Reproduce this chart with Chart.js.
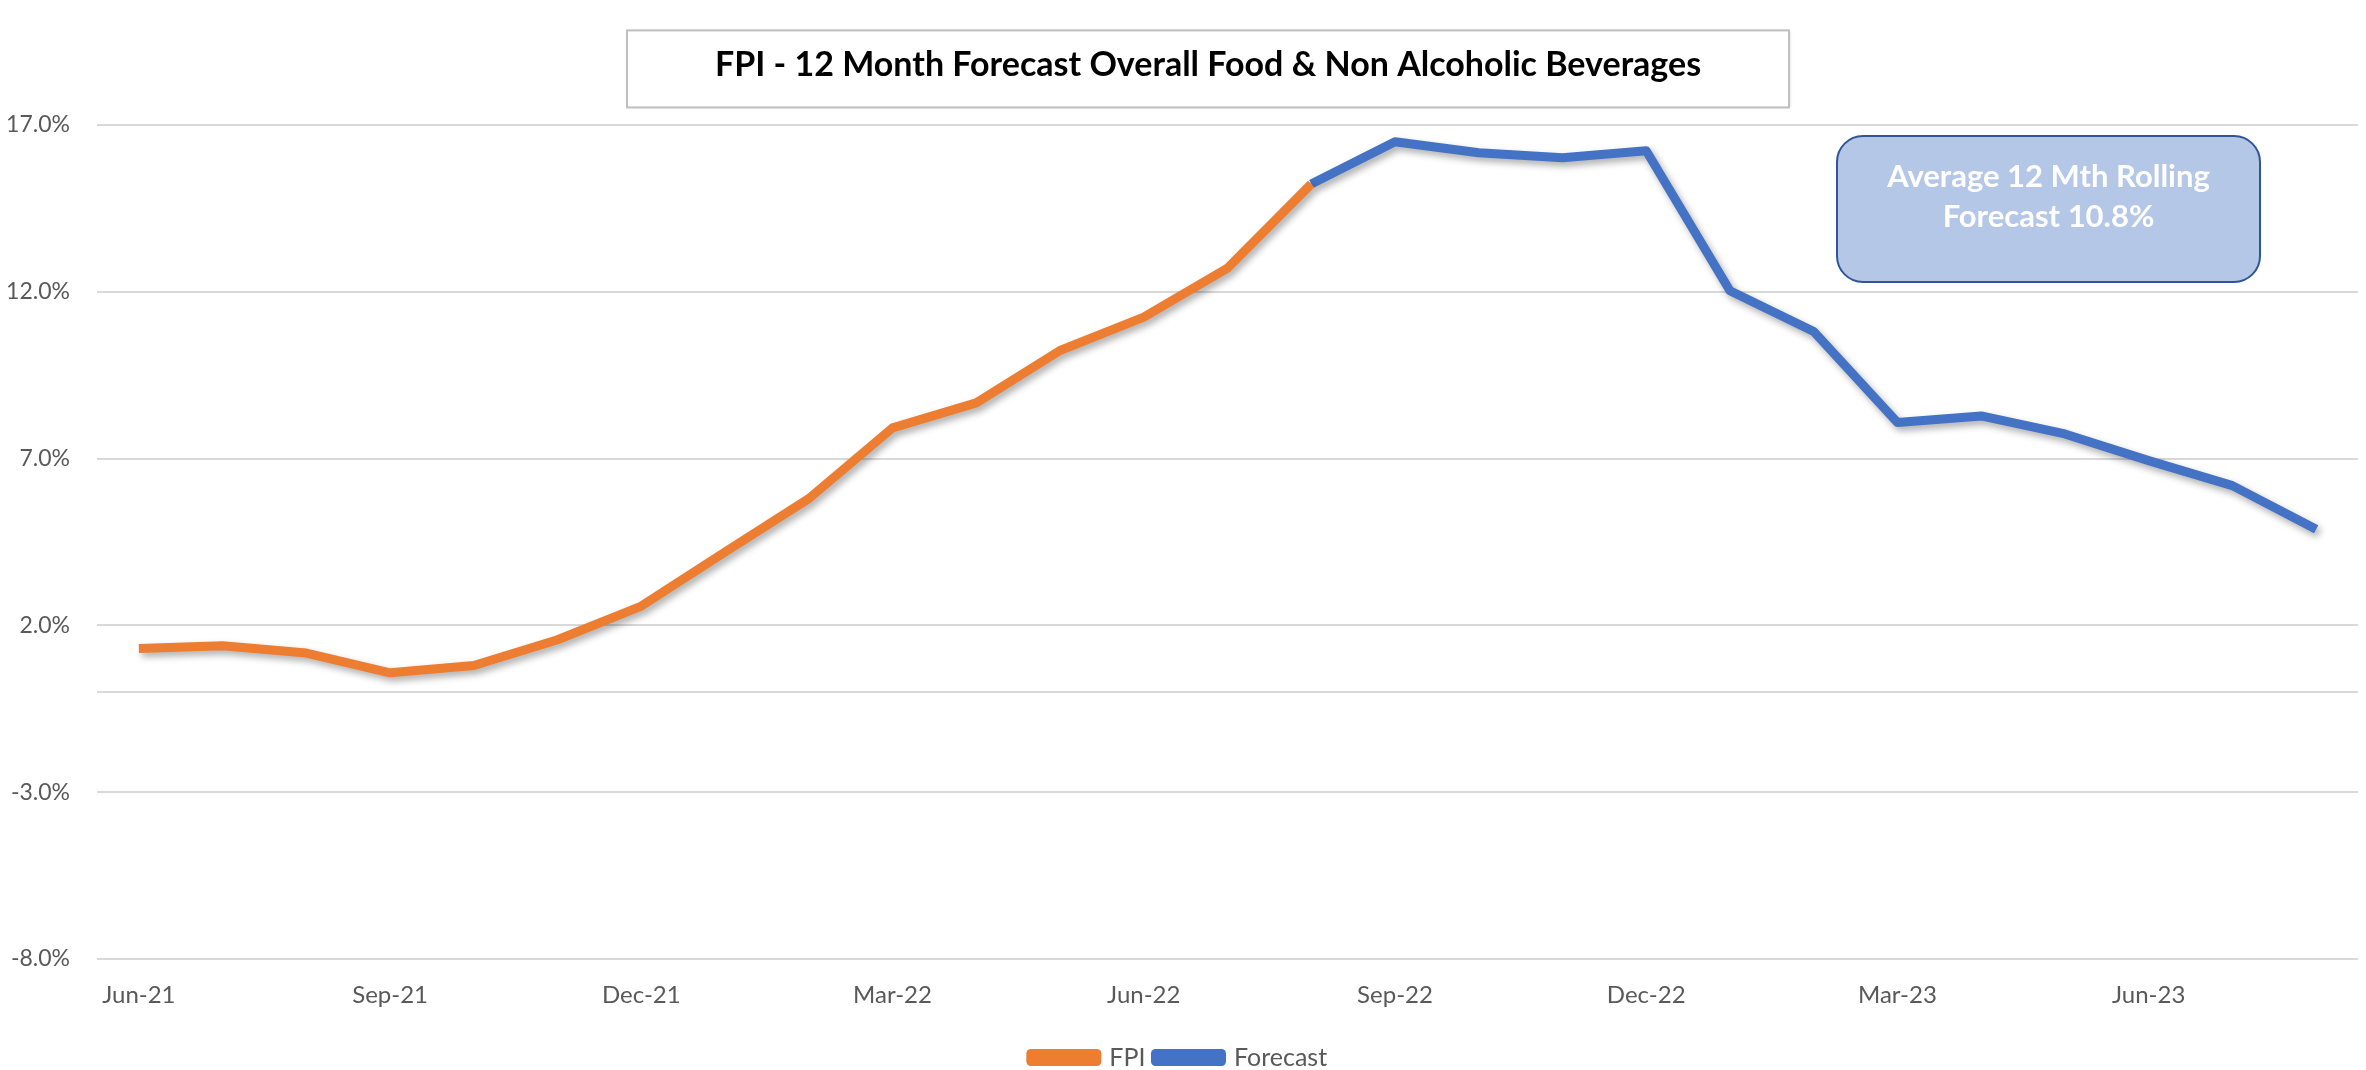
<!DOCTYPE html>
<html>
<head>
<meta charset="utf-8">
<script src="https://cdn.jsdelivr.net/npm/chart.js@4.4.1/dist/chart.umd.min.js"></script>
<style>
  html, body { margin: 0; padding: 0; background: #ffffff; }
  #wrap { width: 2366px; height: 1070px; }
</style>
</head>
<body>
<div id="wrap"><canvas id="c" width="2366" height="1070"></canvas></div>
<script>
const months = ["Jun-21","Jul-21","Aug-21","Sep-21","Oct-21","Nov-21","Dec-21",
  "Jan-22","Feb-22","Mar-22","Apr-22","May-22","Jun-22","Jul-22","Aug-22",
  "Sep-22","Oct-22","Nov-22","Dec-22","Jan-23","Feb-23","Mar-23","Apr-23",
  "May-23","Jun-23","Jul-23","Aug-23"];
const fpiValues = [1.31, 1.39, 1.17, 0.58, 0.80, 1.57, 2.58, 4.20, 5.80, 7.92,
  8.67, 10.24, 11.24, 12.71, 15.23];
const forecastValues = [15.23, 16.50, 16.17, 16.02, 16.23, 12.03, 10.81, 8.08,
  8.28, 7.74, 6.94, 6.19, 4.88];
const yTicks = [-8, -3, 2, 7, 12, 17];
const titleText = "FPI - 12 Month Forecast Overall Food & Non Alcoholic Beverages";
const noteLines = ["Average 12 Mth Rolling", "Forecast 10.8%"];

const fpiData = months.map((m, i) => i < fpiValues.length ? fpiValues[i] : null);
const fcStart = months.length - forecastValues.length;
const forecastData = months.map((m, i) => i >= fcStart ? forecastValues[i - fcStart] : null);

const FONT = "Lato, 'Open Sans', sans-serif";

function roundRect(ctx, x, y, w, h, r) {
  ctx.beginPath();
  ctx.moveTo(x + r, y);
  ctx.lineTo(x + w - r, y);
  ctx.arcTo(x + w, y, x + w, y + r, r);
  ctx.lineTo(x + w, y + h - r);
  ctx.arcTo(x + w, y + h, x + w - r, y + h, r);
  ctx.lineTo(x + r, y + h);
  ctx.arcTo(x, y + h, x, y + h - r, r);
  ctx.lineTo(x, y + r);
  ctx.arcTo(x, y, x + r, y, r);
  ctx.closePath();
}

const decor = {
  id: 'decor',
  afterLayout(chart) {
    const tb = chart.titleBlock;
    if (tb) { tb.left -= 39; }
  },
  beforeDraw(chart) {
    const ctx = chart.ctx;
    const tb = chart.titleBlock;
    if (!tb) return;
    const cx = (tb.left + tb.right) / 2;
    const cy = tb.top + tb.options.padding.top + 20.4;
    ctx.save();
    ctx.fillStyle = '#ffffff';
    ctx.strokeStyle = '#BFBFBF';
    ctx.lineWidth = 2;
    ctx.shadowColor = 'rgba(0,0,0,0.15)';
    ctx.shadowBlur = 3;
    ctx.shadowOffsetX = 1;
    ctx.shadowOffsetY = 1;
    ctx.fillRect(cx - 581, cy - 35, 1162, 77);
    ctx.shadowColor = 'transparent';
    ctx.strokeRect(cx - 581, cy - 35, 1162, 77);
    ctx.restore();
  },
  beforeDatasetsDraw(chart) {
    const ctx = chart.ctx;
    const y = chart.scales.y.getPixelForValue(0);
    const a = chart.chartArea;
    ctx.save();
    ctx.strokeStyle = '#D9D9D9';
    ctx.lineWidth = 2;
    ctx.beginPath();
    ctx.moveTo(a.left, y);
    ctx.lineTo(a.right, y);
    ctx.stroke();
    ctx.restore();
  },
  beforeDatasetDraw(chart) {
    const ctx = chart.ctx;
    ctx.save();
    ctx.shadowColor = 'rgba(0,0,0,0.32)';
    ctx.shadowBlur = 7;
    ctx.shadowOffsetX = 3;
    ctx.shadowOffsetY = 4;
  },
  afterDatasetDraw(chart) {
    chart.ctx.restore();
  },
  afterDatasetsDraw(chart) {
    const ctx = chart.ctx;
    const a = chart.chartArea;
    const w = 423, h = 146;
    const x = a.right - 98 - w;
    const y = a.top + 11;
    ctx.save();
    roundRect(ctx, x, y, w, h, 26);
    ctx.fillStyle = '#B4C7E7';
    ctx.fill();
    ctx.lineWidth = 2;
    ctx.strokeStyle = '#2F5597';
    ctx.stroke();
    ctx.fillStyle = '#ffffff';
    ctx.font = "bold 31px " + FONT;
    ctx.textAlign = 'center';
    ctx.textBaseline = 'middle';
    ctx.fillText(noteLines[0], x + w / 2, y + 41);
    ctx.fillText(noteLines[1], x + w / 2, y + 81);
    ctx.restore();
  }
};

new Chart(document.getElementById('c'), {
  type: 'line',
  data: {
    labels: months,
    datasets: [
      { label: 'FPI', data: fpiData, borderColor: '#ED7D31', backgroundColor: '#ED7D31',
        borderWidth: 9, pointRadius: 0, pointHoverRadius: 0, tension: 0, fill: false,
        borderCapStyle: 'butt', borderJoinStyle: 'round' },
      { label: 'Forecast', data: forecastData, borderColor: '#4472C4', backgroundColor: '#4472C4',
        borderWidth: 9, pointRadius: 0, pointHoverRadius: 0, tension: 0, fill: false,
        borderCapStyle: 'butt', borderJoinStyle: 'round' }
    ]
  },
  options: {
    responsive: false,
    animation: false,
    devicePixelRatio: 1,
    layout: { padding: { left: 0, right: 8, top: 0, bottom: -10 } },
    plugins: {
      title: {
        display: true,
        fullSize: false,
        text: titleText,
        color: '#000000',
        font: { family: FONT, size: 34, weight: 'bold', lineHeight: 1.2 },
        padding: { top: 45, bottom: 39.2 }
      },
      legend: {
        display: true,
        position: 'bottom',
        labels: {
          boxWidth: 66,
          boxHeight: 8,
          color: '#595959',
          font: { family: FONT, size: 25 },
          padding: 10
        }
      },
      tooltip: { enabled: false }
    },
    scales: {
      x: {
        type: 'category',
        offset: true,
        grid: { display: false, drawTicks: false },
        border: { display: false },
        ticks: {
          autoSkip: false,
          maxRotation: 0,
          minRotation: 0,
          padding: 22,
          color: '#595959',
          font: { family: FONT, size: 24 },
          callback: function(v, i) { return i % 3 === 0 ? months[i] : ''; }
        },
        afterFit: function(s) { s.height = 76; }
      },
      y: {
        min: -8,
        max: 17,
        afterBuildTicks: function(s) { s.ticks = yTicks.map(v => ({ value: v })); },
        grid: { color: '#D9D9D9', lineWidth: 2, drawTicks: false },
        border: { display: false },
        ticks: {
          padding: 27,
          color: '#595959',
          font: { family: FONT, size: 23 },
          callback: function(v) { return v.toFixed(1) + '%'; }
        },
        afterFit: function(s) { s.width = 97; }
      }
    }
  },
  plugins: [decor]
});
</script>
</body>
</html>
